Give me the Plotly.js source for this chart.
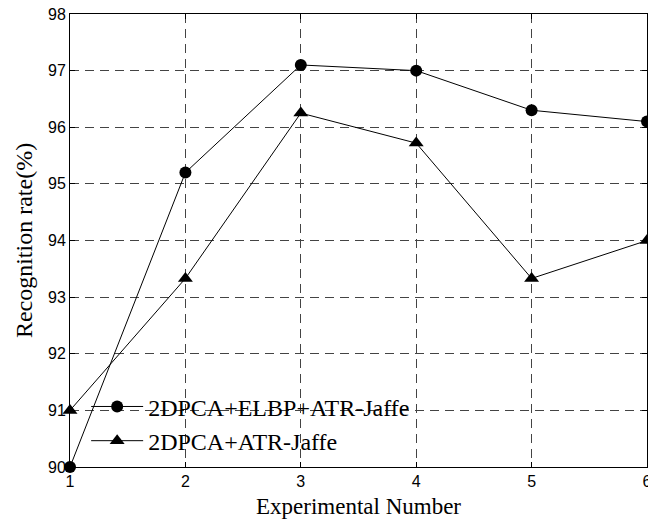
<!DOCTYPE html>
<html>
<head>
<meta charset="utf-8">
<script src="https://cdn.plot.ly/plotly-3.0.1.min.js"></script>
<style>html,body{margin:0;padding:0;background:#fff;}#chart{width:648px;height:522px;}</style>
</head>
<body>
<div id="chart"></div>
<script>
const experiments = [1, 2, 3, 4, 5, 6];
const elbpRates = [90.0, 95.2, 97.1, 97.0, 96.3, 96.1];
const baseRates = [91.0, 93.33, 96.25, 95.72, 93.33, 94.0];
const seriesNames = ['2DPCA+ELBP+ATR-Jaffe', '2DPCA+ATR-Jaffe'];
const yTicks = [90, 91, 92, 93, 94, 95, 96, 97, 98];

const traces = [
  {x: experiments, y: elbpRates, name: seriesNames[0], mode: 'lines+markers',
   line: {color: '#000', width: 1}, marker: {symbol: 'circle', size: 12, color: '#000'},
   cliponaxis: false},
  {x: experiments, y: baseRates, name: seriesNames[1], mode: 'lines+markers',
   line: {color: '#000', width: 1}, marker: {symbol: 'triangle-up', size: 13, color: '#000'},
   cliponaxis: false}
];

const axisCommon = {
  showline: true, linecolor: '#000', linewidth: 1, mirror: 'ticks',
  ticks: 'inside', ticklen: 5, tickcolor: '#000',
  showgrid: true, gridcolor: '#444', griddash: '9px,6px', gridwidth: 1,
  zeroline: false, ticklabeloverflow: 'allow',
  tickfont: {family: 'Liberation Sans, Arial, sans-serif', size: 16, color: '#000'}
};

const layout = {
  width: 648, height: 522,
  margin: {l: 70, r: 1, t: 14, b: 55},
  paper_bgcolor: '#fff', plot_bgcolor: '#fff',
  showlegend: true,
  legend: {x: 0.028, xanchor: 'left', y: 0.008, yanchor: 'bottom',
           bgcolor: 'rgba(0,0,0,0)', borderwidth: 0, itemwidth: 52,
           font: {family: 'Liberation Serif, Times New Roman, serif', size: 24, color: '#000'}},
  xaxis: Object.assign({}, axisCommon, {
    range: [1, 6], tickvals: experiments, ticktext: experiments.map(String),
    title: {text: 'Experimental Number', standoff: 8,
            font: {family: 'Liberation Serif, Times New Roman, serif', size: 23, color: '#000'}}
  }),
  yaxis: Object.assign({}, axisCommon, {
    range: [90, 98], tickvals: yTicks, ticktext: yTicks.map(String),
    title: {text: 'Recognition rate(%)', standoff: 8,
            font: {family: 'Liberation Serif, Times New Roman, serif', size: 24, color: '#000'}}
  })
};

Plotly.newPlot('chart', traces, layout, {displayModeBar: false, staticPlot: true});
</script>
</body>
</html>
